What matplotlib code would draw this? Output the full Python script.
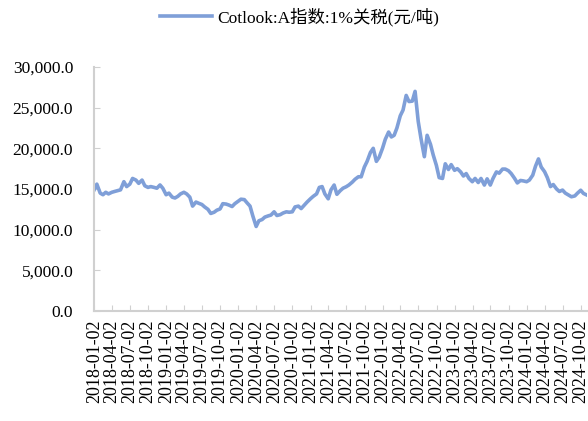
import numpy as np
import pandas as pd
import matplotlib
matplotlib.use('Agg')
import matplotlib.pyplot as plt
from matplotlib.ticker import FuncFormatter

plt.rcParams['font.family'] = ['Liberation Serif', 'Noto Sans CJK SC']

# Cotlook A index (1% tariff), RMB/ton at half-month steps
dates = pd.date_range('2018-01-01', periods=165, freq='SMS')
values = [
    14880, 15600, 14500, 14300, 14600, 14400, 14600, 14700, 14800, 14900,
    15900, 15300, 15600, 16300, 16100, 15700, 16100, 15400, 15200, 15300,
    15200, 15100, 15500, 15100, 14300, 14500, 14000, 13900, 14100, 14400,
    14600, 14400, 14000, 12900, 13400, 13250, 13100, 12800, 12500, 12000,
    12150, 12400, 12550, 13200, 13150, 13030, 12850, 13200, 13500, 13750,
    13700, 13300, 12900, 11700, 10400, 11100, 11250, 11550, 11700, 11800,
    12200, 11750, 11850, 12050, 12200, 12150, 12200, 12800, 12900, 12600,
    13030, 13400, 13800, 14100, 14400, 15200, 15300, 14400, 13800, 14900,
    15490, 14350, 14800, 15100, 15280, 15500, 15850, 16200, 16510, 16500,
    17700, 18400, 19500, 20000, 18400, 18900, 20000, 21100, 22000, 21400,
    21600, 22500, 24000, 24700, 26500, 25750, 25800, 27000, 23300, 21200,
    18970, 21600, 20500, 19180, 17900, 16400, 16300, 18100, 17400, 18000,
    17300, 17500, 17100, 16600, 16900, 16300, 15900, 16300, 15800, 16300,
    15490, 16250, 15490, 16310, 17100, 16950, 17450, 17450, 17250, 16900,
    16310, 15750, 16050, 16000, 15900, 16100, 16700, 17800, 18700, 17700,
    17130, 16400, 15300, 15550, 15000, 14700, 14870, 14500, 14250, 14050,
    14150, 14500, 14850, 14460, 14260,
]
series_name = 'Cotlook:A指数:1%关税(元/吨)'
tick_dates = pd.date_range('2018-01-02', '2024-10-02', freq=pd.DateOffset(months=3))
y_ticks = [0, 5000, 10000, 15000, 20000, 25000, 30000]

line_color = '#7F9FD8'
axis_color = '#D0D0D0'

fig = plt.figure(figsize=(5.88, 4.21), dpi=100)
ax = fig.add_axes([0.160, 0.261, 0.838, 0.580])

ax.plot(dates, values, color=line_color, linewidth=2.6, label=series_name)

ax.set_xlim(pd.Timestamp('2018-01-01'), pd.Timestamp('2024-11-01'))
ax.set_ylim(0, 30000)
ax.set_yticks(y_ticks)
ax.yaxis.set_major_formatter(FuncFormatter(lambda v, p: '{:,.1f}'.format(v)))
ax.set_xticks(tick_dates)
ax.set_xticklabels([d.strftime('%Y-%m-%d') for d in tick_dates], rotation=90)

for s in ['top', 'right']:
    ax.spines[s].set_visible(False)
for s in ['left', 'bottom']:
    ax.spines[s].set_color(axis_color)
    ax.spines[s].set_linewidth(1.5)

ax.tick_params(axis='x', direction='in', length=4, color=axis_color,
               labelsize=13, pad=6)
ax.tick_params(axis='y', direction='in', length=4, color=axis_color,
               labelsize=12.5, pad=15)

fig.legend(loc='center', bbox_to_anchor=(0.51, 0.96), frameon=False,
           handlelength=3.0, handletextpad=0.3, fontsize=12.5)

fig.savefig('out.png', dpi=100)
